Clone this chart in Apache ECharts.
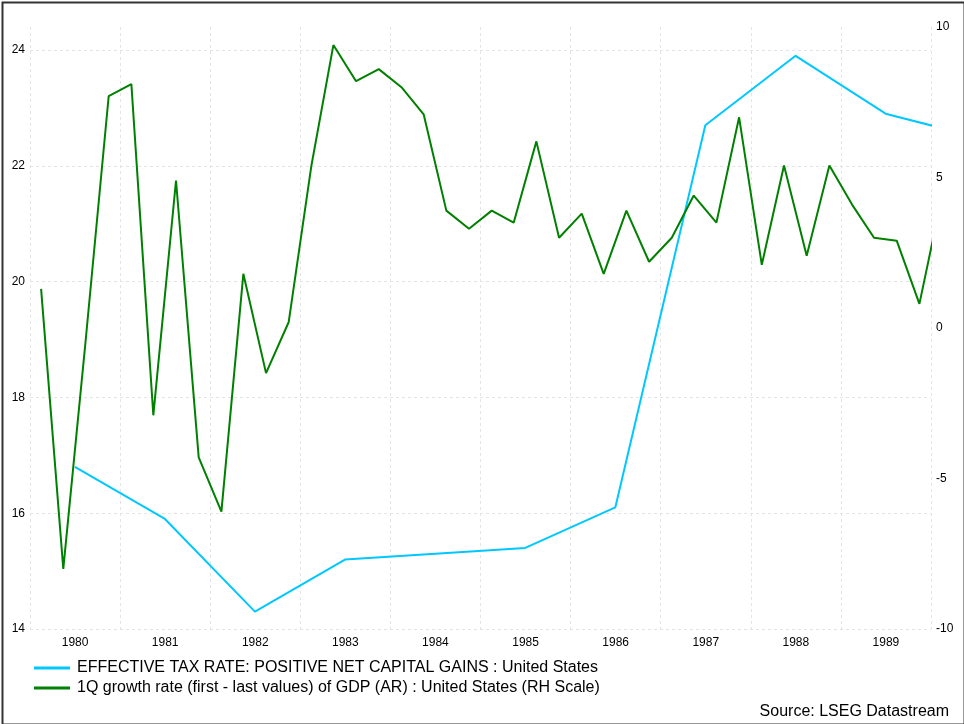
<!DOCTYPE html>
<html>
<head>
<meta charset="utf-8">
<script src="https://cdn.jsdelivr.net/npm/echarts@6/dist/echarts.min.js"></script>
<style>
html,body{margin:0;padding:0;background:#fff;}
#chart{width:964px;height:724px;}
</style>
</head>
<body>
<div id="chart"></div>
<script>
// Year labels on the x axis
var yearLabels = ['1980','1981','1982','1983','1984','1985','1986','1987','1988','1989'];

// Effective tax rate (annual, left scale)
var taxYears = ['1980','1981','1982','1983','1984','1985','1986','1987','1988','1989','1990'];
var taxValues = [16.8, 15.9, 14.3, 15.2, 15.3, 15.4, 16.1, 22.7, 23.9, 22.9, 22.5];

// GDP 1Q growth rate (quarterly, right scale)
var gdpQuarters = [
  '1980Q1','1980Q2','1980Q3','1980Q4','1981Q1','1981Q2','1981Q3','1981Q4',
  '1982Q1','1982Q2','1982Q3','1982Q4','1983Q1','1983Q2','1983Q3','1983Q4',
  '1984Q1','1984Q2','1984Q3','1984Q4','1985Q1','1985Q2','1985Q3','1985Q4',
  '1986Q1','1986Q2','1986Q3','1986Q4','1987Q1','1987Q2','1987Q3','1987Q4',
  '1988Q1','1988Q2','1988Q3','1988Q4','1989Q1','1989Q2','1989Q3','1989Q4','1990Q1'];
var gdpValues = [
  1.3, -8.0, -0.3, 7.7, 8.1, -2.9, 4.9, -4.3,
  -6.1, 1.8, -1.5, 0.2, 5.4, 9.4, 8.2, 8.6,
  8.0, 7.1, 3.9, 3.3, 3.9, 3.5, 6.2, 3.0,
  3.8, 1.8, 3.9, 2.2, 3.0, 4.4, 3.5, 7.0,
  2.1, 5.4, 2.4, 5.4, 4.1, 3.0, 2.9, 0.8, 4.4];

var leftTicks = {min: 14, max: 24, interval: 2};
var rightTicks = {min: -10, max: 10, interval: 5};

var seriesNames = [
  'EFFECTIVE TAX RATE: POSITIVE NET CAPITAL GAINS : United States',
  '1Q growth rate (first - last values) of GDP (AR) : United States (RH Scale)'
];

var qMonth = {Q1: '02-15', Q2: '05-15', Q3: '08-15', Q4: '11-15'};
var taxData = taxYears.map(function (y, i) { return [y + '-07-01', taxValues[i]]; });
var gdpData = gdpQuarters.map(function (q, i) { return [q.slice(0, 4) + '-' + qMonth[q.slice(4)], gdpValues[i]]; });

var FONT = 'Liberation Sans, Arial, sans-serif';
var chart = echarts.init(document.getElementById('chart'));
chart.setOption({
  backgroundColor: '#fff',
  animation: false,
  grid: [
    {left: 30, right: 33, top: 50, bottom: 95},
    {left: 30, right: 33, top: 27, bottom: 95}
  ],
  xAxis: [
    {type: 'time', gridIndex: 0, min: '1980-01-01', max: '1990-01-01', show: false},
    {type: 'time', gridIndex: 1, min: '1980-01-01', max: '1990-01-01', show: false},
    {type: 'category', gridIndex: 1, position: 'bottom', data: yearLabels, boundaryGap: true,
     axisLine: {show: false}, axisTick: {show: false},
     axisLabel: {interval: 0, color: '#000', fontSize: 12, fontFamily: FONT, margin: 8},
     splitLine: {show: true, interval: 0, lineStyle: {color: '#e4e4e4', type: [3, 3], width: 1}}}
  ],
  yAxis: [
    {type: 'value', gridIndex: 0, position: 'left', min: leftTicks.min, max: leftTicks.max, interval: leftTicks.interval,
     axisLine: {show: false}, axisTick: {show: false},
     axisLabel: {color: '#000', fontSize: 12, fontFamily: FONT, margin: 5},
     splitLine: {show: true, lineStyle: {color: '#e4e4e4', type: [3, 3], width: 1}}},
    {type: 'value', gridIndex: 1, position: 'right', min: rightTicks.min, max: rightTicks.max, interval: rightTicks.interval,
     axisLine: {show: false}, axisTick: {show: false},
     axisLabel: {color: '#000', fontSize: 12, fontFamily: FONT, margin: 5},
     splitLine: {show: false}}
  ],
  legend: {
    orient: 'vertical', left: 34, top: 660, itemGap: 4, padding: 0,
    itemWidth: 36, itemHeight: 3, icon: 'rect',
    textStyle: {color: '#000', fontSize: 16, fontFamily: FONT, lineHeight: 16, padding: [0, 0, 0, 2]},
    data: seriesNames
  },
  series: [
    {name: seriesNames[0], type: 'line', xAxisIndex: 0, yAxisIndex: 0, data: taxData,
     showSymbol: false, symbol: 'none', color: '#00c8ff', lineStyle: {width: 2, color: '#00c8ff'}, z: 2},
    {name: seriesNames[1], type: 'line', xAxisIndex: 1, yAxisIndex: 1, data: gdpData,
     showSymbol: false, symbol: 'none', color: '#008000', lineStyle: {width: 2, color: '#008000'}, z: 3}
  ],
  graphic: [
    {type: 'text', right: 15, top: 704, style: {text: 'Source: LSEG Datastream', fill: '#000', font: '16px ' + FONT}},
    {type: 'rect', left: 0, top: 0, shape: {x: 1, y: 1, width: 962, height: 722},
     style: {fill: 'none', stroke: '#333', lineWidth: 2}, silent: true}
  ]
});
</script>
</body>
</html>
